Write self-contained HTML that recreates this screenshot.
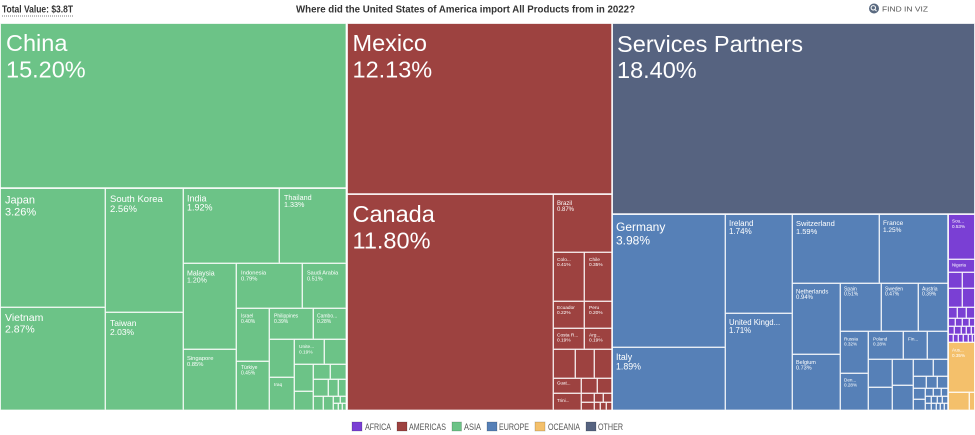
<!DOCTYPE html>
<html><head><meta charset="utf-8"><style>
html,body{margin:0;padding:0;background:#fff;}
svg{display:block;}
text{font-family:"Liberation Sans",sans-serif;}
</style></head><body>
<svg width="975" height="435" viewBox="0 0 975 435" xmlns="http://www.w3.org/2000/svg">
<rect x="0" y="0" width="975" height="435" fill="#fff"/>
<!-- Header -->
<text x="2" y="12.5" font-size="10" font-weight="bold" fill="#333" textLength="71" lengthAdjust="spacingAndGlyphs">Total Value: $3.8T</text>
<line x1="2" y1="16" x2="73" y2="16" stroke="#777" stroke-width="1" stroke-dasharray="1,1"/>
<text x="296" y="12.5" font-size="10.5" font-weight="bold" fill="#333" textLength="339" lengthAdjust="spacingAndGlyphs">Where did the United States of America import All Products from in 2022?</text>
<circle cx="874" cy="8.5" r="5" fill="#5a6a80"/>
<circle cx="873.3" cy="7.8" r="2.2" fill="none" stroke="#fff" stroke-width="1"/>
<line x1="874.8" y1="9.3" x2="876.5" y2="11" stroke="#fff" stroke-width="1"/>
<text x="882" y="11.5" font-size="7.5" fill="#555" textLength="46" lengthAdjust="spacingAndGlyphs">FIND IN VIZ</text>

<g shape-rendering="crispEdges" stroke="#ffffff" stroke-opacity="0.7" stroke-width="1">
<!-- ASIA -->
<g fill="#6cc387">
<rect x="0.5" y="23.5" width="345.5" height="164.5"/>
<rect x="0.5" y="188.5" width="104.5" height="118.5"/>
<rect x="0.5" y="307.5" width="104.5" height="102.5"/>
<rect x="105.5" y="188.5" width="77.5" height="123.5"/>
<rect x="105.5" y="312.5" width="77.5" height="97.5"/>
<rect x="183.5" y="188.5" width="95.5" height="74.5"/>
<rect x="279.5" y="188.5" width="66.5" height="74.5"/>
<rect x="183.5" y="263.5" width="52.5" height="85.5"/>
<rect x="183.5" y="349.5" width="52.5" height="60.5"/>
<rect x="236.5" y="263.5" width="65.5" height="44.5"/>
<rect x="302.5" y="263.5" width="43.5" height="44.5"/>
<rect x="236.5" y="308.5" width="32.5" height="52.5"/>
<rect x="236.5" y="361.5" width="32.5" height="48.5"/>
<rect x="269.5" y="308.5" width="43.5" height="30.5"/>
<rect x="313.5" y="308.5" width="32.5" height="30.5"/>
<rect x="269.5" y="339.5" width="24.5" height="37.5"/>
<rect x="269.5" y="377.5" width="24.5" height="32.5"/>
<rect x="294.5" y="339.5" width="29.5" height="24.5"/>
<rect x="324.5" y="339.5" width="21.5" height="24.5"/>
<rect x="294.5" y="364.5" width="18.5" height="26.5"/>
<rect x="294.5" y="391.5" width="18.5" height="18.5"/>
<rect x="313.5" y="364.5" width="16.5" height="14.5"/>
<rect x="330.5" y="364.5" width="15.5" height="14.5"/>
<rect x="313.5" y="379.5" width="14.5" height="16.5"/>
<rect x="328.5" y="379.5" width="9.5" height="16.5"/>
<rect x="338.5" y="379.5" width="7.5" height="16.5"/>
<rect x="313.5" y="396.5" width="9.5" height="13.5"/>
<rect x="323.5" y="396.5" width="9.5" height="13.5"/>
<rect x="333.5" y="396.5" width="6.5" height="6.5"/>
<rect x="340.5" y="396.5" width="5.5" height="6.5"/>
<rect x="333.5" y="403.5" width="4.5" height="6.5"/>
<rect x="338.5" y="403.5" width="3.5" height="6.5"/>
<rect x="342.5" y="403.5" width="3.5" height="6.5"/>
</g>
<!-- AMERICAS -->
<g fill="#9d4240">
<rect x="347.5" y="23.5" width="264.5" height="170.5"/>
<rect x="347.5" y="194.5" width="205.5" height="215.5"/>
<rect x="553.5" y="194.5" width="58.5" height="57.5"/>
<rect x="553.5" y="252.5" width="30.5" height="48.5"/>
<rect x="584.5" y="252.5" width="27.5" height="48.5"/>
<rect x="553.5" y="301.5" width="30.5" height="26.5"/>
<rect x="584.5" y="301.5" width="27.5" height="26.5"/>
<rect x="553.5" y="328.5" width="30.5" height="20.5"/>
<rect x="584.5" y="328.5" width="27.5" height="20.5"/>
<rect x="553.5" y="349.5" width="21.5" height="28.5"/>
<rect x="575.5" y="349.5" width="18.5" height="28.5"/>
<rect x="594.5" y="349.5" width="17.5" height="28.5"/>
<rect x="553.5" y="378.5" width="27.5" height="14.5"/>
<rect x="553.5" y="393.5" width="27.5" height="16.5"/>
<rect x="581.5" y="378.5" width="15.5" height="14.5"/>
<rect x="597.5" y="378.5" width="14.5" height="14.5"/>
<rect x="581.5" y="393.5" width="12.5" height="8.5"/>
<rect x="581.5" y="402.5" width="12.5" height="7.5"/>
<rect x="594.5" y="393.5" width="8.5" height="8.5"/>
<rect x="603.5" y="393.5" width="8.5" height="8.5"/>
<rect x="594.5" y="402.5" width="5.5" height="7.5"/>
<rect x="600.5" y="402.5" width="5.5" height="7.5"/>
<rect x="606.5" y="402.5" width="5.5" height="7.5"/>
</g>
<!-- OTHER -->
<rect x="612.5" y="23.5" width="362" height="190.5" fill="#566380"/>
<!-- EUROPE -->
<g fill="#5680b7">
<rect x="612.5" y="214.5" width="112.5" height="132.5"/>
<rect x="612.5" y="347.5" width="112.5" height="62.5"/>
<rect x="725.5" y="214.5" width="66.5" height="98.5"/>
<rect x="725.5" y="313.5" width="66.5" height="96.5"/>
<rect x="792.5" y="214.5" width="86.5" height="68.5"/>
<rect x="879.5" y="214.5" width="68.5" height="68.5"/>
<rect x="792.5" y="283.5" width="47.5" height="70.5"/>
<rect x="792.5" y="354.5" width="47.5" height="55.5"/>
<rect x="840.5" y="283.5" width="40.5" height="47.5"/>
<rect x="881.5" y="283.5" width="36.5" height="47.5"/>
<rect x="918.5" y="283.5" width="29.5" height="47.5"/>
<rect x="840.5" y="331.5" width="27.5" height="41.5"/>
<rect x="840.5" y="373.5" width="27.5" height="36.5"/>
<rect x="868.5" y="331.5" width="34.5" height="27.5"/>
<rect x="903.5" y="331.5" width="23.5" height="27.5"/>
<rect x="927.5" y="331.5" width="20.5" height="27.5"/>
<rect x="868.5" y="359.5" width="23.5" height="27.5"/>
<rect x="868.5" y="387.5" width="23.5" height="22.5"/>
<rect x="892.5" y="359.5" width="20.5" height="25.5"/>
<rect x="892.5" y="385.5" width="20.5" height="24.5"/>
<rect x="913.5" y="359.5" width="19.5" height="16.5"/>
<rect x="933.5" y="359.5" width="14.5" height="16.5"/>
<rect x="913.5" y="376.5" width="12.5" height="11.5"/>
<rect x="926.5" y="376.5" width="10.5" height="11.5"/>
<rect x="937.5" y="376.5" width="10.5" height="11.5"/>
<rect x="913.5" y="388.5" width="11.5" height="10.5"/>
<rect x="913.5" y="399.5" width="11.5" height="10.5"/>
<rect x="925.5" y="388.5" width="7.5" height="7.5"/>
<rect x="933.5" y="388.5" width="7.5" height="7.5"/>
<rect x="941.5" y="388.5" width="6.5" height="7.5"/>
<rect x="925.5" y="396.5" width="5.5" height="6.5"/>
<rect x="931.5" y="396.5" width="5.5" height="6.5"/>
<rect x="937.5" y="396.5" width="4.5" height="6.5"/>
<rect x="942.5" y="396.5" width="5.5" height="6.5"/>
<rect x="925.5" y="403.5" width="5.5" height="6.5"/>
<rect x="931.5" y="403.5" width="4.5" height="6.5"/>
<rect x="936.5" y="403.5" width="3.5" height="6.5"/>
<rect x="940.5" y="403.5" width="3.5" height="6.5"/>
<rect x="944.5" y="403.5" width="3.5" height="6.5"/>
</g>
<!-- AFRICA -->
<g fill="#7a3fd4">
<rect x="948.5" y="214.5" width="26" height="44.5"/>
<rect x="948.5" y="259.5" width="26" height="12.5"/>
<rect x="948.5" y="272.5" width="13.5" height="15.5"/>
<rect x="962.5" y="272.5" width="12" height="15.5"/>
<rect x="948.5" y="288.5" width="13.5" height="18.5"/>
<rect x="962.5" y="288.5" width="12" height="18.5"/>
<rect x="948.5" y="307.5" width="8.5" height="10.5"/>
<rect x="957.5" y="307.5" width="8.5" height="10.5"/>
<rect x="966.5" y="307.5" width="8" height="10.5"/>
<rect x="948.5" y="318.5" width="6.5" height="7.5"/>
<rect x="955.5" y="318.5" width="6.5" height="7.5"/>
<rect x="962.5" y="318.5" width="6.5" height="7.5"/>
<rect x="969.5" y="318.5" width="5" height="7.5"/>
<rect x="948.5" y="326.5" width="5.5" height="7.5"/>
<rect x="954.5" y="326.5" width="6.5" height="7.5"/>
<rect x="961.5" y="326.5" width="4.5" height="7.5"/>
<rect x="966.5" y="326.5" width="4.5" height="7.5"/>
<rect x="971.5" y="326.5" width="3" height="7.5"/>
<rect x="948.5" y="334.5" width="4.5" height="7.5"/>
<rect x="953.5" y="334.5" width="4.5" height="7.5"/>
<rect x="958.5" y="334.5" width="4.5" height="7.5"/>
<rect x="963.5" y="334.5" width="4.5" height="7.5"/>
<rect x="968.5" y="334.5" width="3.5" height="7.5"/>
<rect x="972.5" y="334.5" width="2" height="7.5"/>
</g>
<!-- OCEANIA -->
<g fill="#f4c06b">
<rect x="948.5" y="342.5" width="26" height="49.5"/>
<rect x="948.5" y="392.5" width="20.5" height="17.5"/>
<rect x="969.5" y="392.5" width="5" height="17.5"/>
</g>
</g>

<!-- main block separators -->
<g stroke="#ffffff" stroke-width="1.5" stroke-opacity="0.85">
<line x1="346.75" y1="23" x2="346.75" y2="410"/>
<line x1="612" y1="23" x2="612" y2="410"/>
<line x1="347" y1="194" x2="612" y2="194"/>
<line x1="612" y1="214" x2="975" y2="214"/>
<line x1="948" y1="214" x2="948" y2="410"/>
<line x1="0" y1="188" x2="346" y2="188"/>
</g>

<!-- LABELS -->
<g fill="#ffffff">
<text x="6" y="51" font-size="23.5">China</text>
<text x="6" y="77.5" font-size="23.5">15.20%</text>
<text x="352.5" y="51" font-size="23.5">Mexico</text>
<text x="352.5" y="77.5" font-size="23.5">12.13%</text>
<text x="352.5" y="222" font-size="23.5">Canada</text>
<text x="352.5" y="248.5" font-size="23.5">11.80%</text>
<text x="617" y="52" font-size="23.5" textLength="186" lengthAdjust="spacingAndGlyphs">Services Partners</text>
<text x="617" y="78" font-size="23.5">18.40%</text>

<text x="5" y="203.5" font-size="11">Japan</text>
<text x="5" y="215.5" font-size="11">3.26%</text>
<text x="5" y="321" font-size="10.5">Vietnam</text>
<text x="5" y="332.5" font-size="10.5">2.87%</text>
<text x="110" y="202" font-size="9.5">South Korea</text>
<text x="110" y="212" font-size="9.5">2.56%</text>
<text x="110" y="326" font-size="8.5">Taiwan</text>
<text x="110" y="335" font-size="8.5">2.03%</text>
<text x="187" y="201.5" font-size="9">India</text>
<text x="187" y="210.5" font-size="9">1.92%</text>
<text x="284" y="200" font-size="7.2">Thailand</text>
<text x="284" y="207" font-size="7.2">1.33%</text>
<text x="187" y="275.5" font-size="7">Malaysia</text>
<text x="187" y="282.5" font-size="7">1.20%</text>
<text x="187" y="360" font-size="5.8">Singapore</text>
<text x="187" y="366" font-size="5.8">0.85%</text>
<text x="241" y="274.3" font-size="5.8">Indonesia</text>
<text x="241" y="280.3" font-size="5.8">0.79%</text>
<text x="307" y="274.3" font-size="5.5">Saudi Arabia</text>
<text x="307" y="280.3" font-size="5.5">0.51%</text>
<text x="241" y="317.7" font-size="5">Israel</text>
<text x="241" y="323" font-size="5">0.40%</text>
<text x="274" y="317.7" font-size="5">Philippines</text>
<text x="274" y="323" font-size="5">0.39%</text>
<text x="317" y="317.7" font-size="5">Cambo...</text>
<text x="317" y="323" font-size="5">0.28%</text>
<text x="241" y="369" font-size="5">Türkiye</text>
<text x="241" y="374.5" font-size="5">0.45%</text>
<text x="299" y="348" font-size="4.8">Unite...</text>
<text x="299" y="353.3" font-size="4.8">0.19%</text>
<text x="274" y="386" font-size="4.8">Iraq</text>

<text x="557" y="205" font-size="6">Brazil</text>
<text x="557" y="211" font-size="6">0.87%</text>
<text x="557" y="261" font-size="4.8">Colo...</text>
<text x="557" y="266" font-size="4.8">0.41%</text>
<text x="589" y="261" font-size="4.8">Chile</text>
<text x="589" y="266" font-size="4.8">0.35%</text>
<text x="557" y="309" font-size="4.8">Ecuador</text>
<text x="557" y="314" font-size="4.8">0.22%</text>
<text x="589" y="309" font-size="4.8">Peru</text>
<text x="589" y="314" font-size="4.8">0.20%</text>
<text x="557" y="336.7" font-size="4.8">Costa R...</text>
<text x="557" y="341.7" font-size="4.8">0.19%</text>
<text x="589" y="336.7" font-size="4.8">Arg...</text>
<text x="589" y="341.7" font-size="4.8">0.19%</text>
<text x="557" y="384.5" font-size="4.5">Guat...</text>
<text x="557" y="402" font-size="4.5">Trini...</text>

<text x="616" y="231" font-size="12">Germany</text>
<text x="616" y="244.5" font-size="12">3.98%</text>
<text x="616" y="360" font-size="8.8">Italy</text>
<text x="616" y="369.5" font-size="8.8">1.89%</text>
<text x="729" y="226" font-size="8">Ireland</text>
<text x="729" y="234" font-size="8">1.74%</text>
<text x="729" y="325" font-size="7.8">United Kingd...</text>
<text x="729" y="333" font-size="7.8">1.71%</text>
<text x="796" y="226" font-size="7.5">Switzerland</text>
<text x="796" y="234" font-size="7.5">1.59%</text>
<text x="883" y="225" font-size="6.5">France</text>
<text x="883" y="232" font-size="6.5">1.25%</text>
<text x="796" y="293.3" font-size="6">Netherlands</text>
<text x="796" y="299" font-size="6">0.94%</text>
<text x="796" y="364" font-size="5.5">Belgium</text>
<text x="796" y="369.5" font-size="5.5">0.73%</text>
<text x="844" y="290.7" font-size="5">Spain</text>
<text x="844" y="295.7" font-size="5">0.51%</text>
<text x="885" y="290.7" font-size="5">Sweden</text>
<text x="885" y="295.7" font-size="5">0.47%</text>
<text x="922" y="290.7" font-size="5">Austria</text>
<text x="922" y="295.7" font-size="5">0.39%</text>
<text x="844" y="340.7" font-size="4.6">Russia</text>
<text x="844" y="345.5" font-size="4.6">0.32%</text>
<text x="873" y="340.7" font-size="4.6">Poland</text>
<text x="873" y="345.5" font-size="4.6">0.28%</text>
<text x="908" y="340.7" font-size="4.6">Fin...</text>
<text x="844" y="381.7" font-size="4.6">Den...</text>
<text x="844" y="386.7" font-size="4.6">0.28%</text>

<text x="952" y="222.3" font-size="4.6">Sou...</text>
<text x="952" y="228" font-size="4.6">0.53%</text>
<text x="952" y="266.7" font-size="4.4">Nigeria</text>
<text x="952" y="351.7" font-size="4.6">Aus...</text>
<text x="952" y="357" font-size="4.6">0.35%</text>
</g>

<!-- LEGEND -->
<g stroke="#00000033" stroke-width="0.8">
<rect x="352" y="422" width="10" height="9" fill="#7a3fd4"/>
<rect x="397" y="422" width="10" height="9" fill="#9d4240"/>
<rect x="452" y="422" width="9.5" height="9" fill="#6cc387"/>
<rect x="487" y="422" width="10" height="9" fill="#5680b7"/>
<rect x="535" y="422" width="10" height="9" fill="#f4c06b"/>
<rect x="586" y="422" width="10" height="9" fill="#566380"/>
</g>
<g fill="#555" font-size="9">
<text x="365" y="430" textLength="26" lengthAdjust="spacingAndGlyphs">AFRICA</text>
<text x="409" y="430" textLength="37" lengthAdjust="spacingAndGlyphs">AMERICAS</text>
<text x="464" y="430" textLength="17" lengthAdjust="spacingAndGlyphs">ASIA</text>
<text x="499" y="430" textLength="30" lengthAdjust="spacingAndGlyphs">EUROPE</text>
<text x="548" y="430" textLength="32" lengthAdjust="spacingAndGlyphs">OCEANIA</text>
<text x="598" y="430" textLength="25" lengthAdjust="spacingAndGlyphs">OTHER</text>
</g>
</svg>
</body></html>
